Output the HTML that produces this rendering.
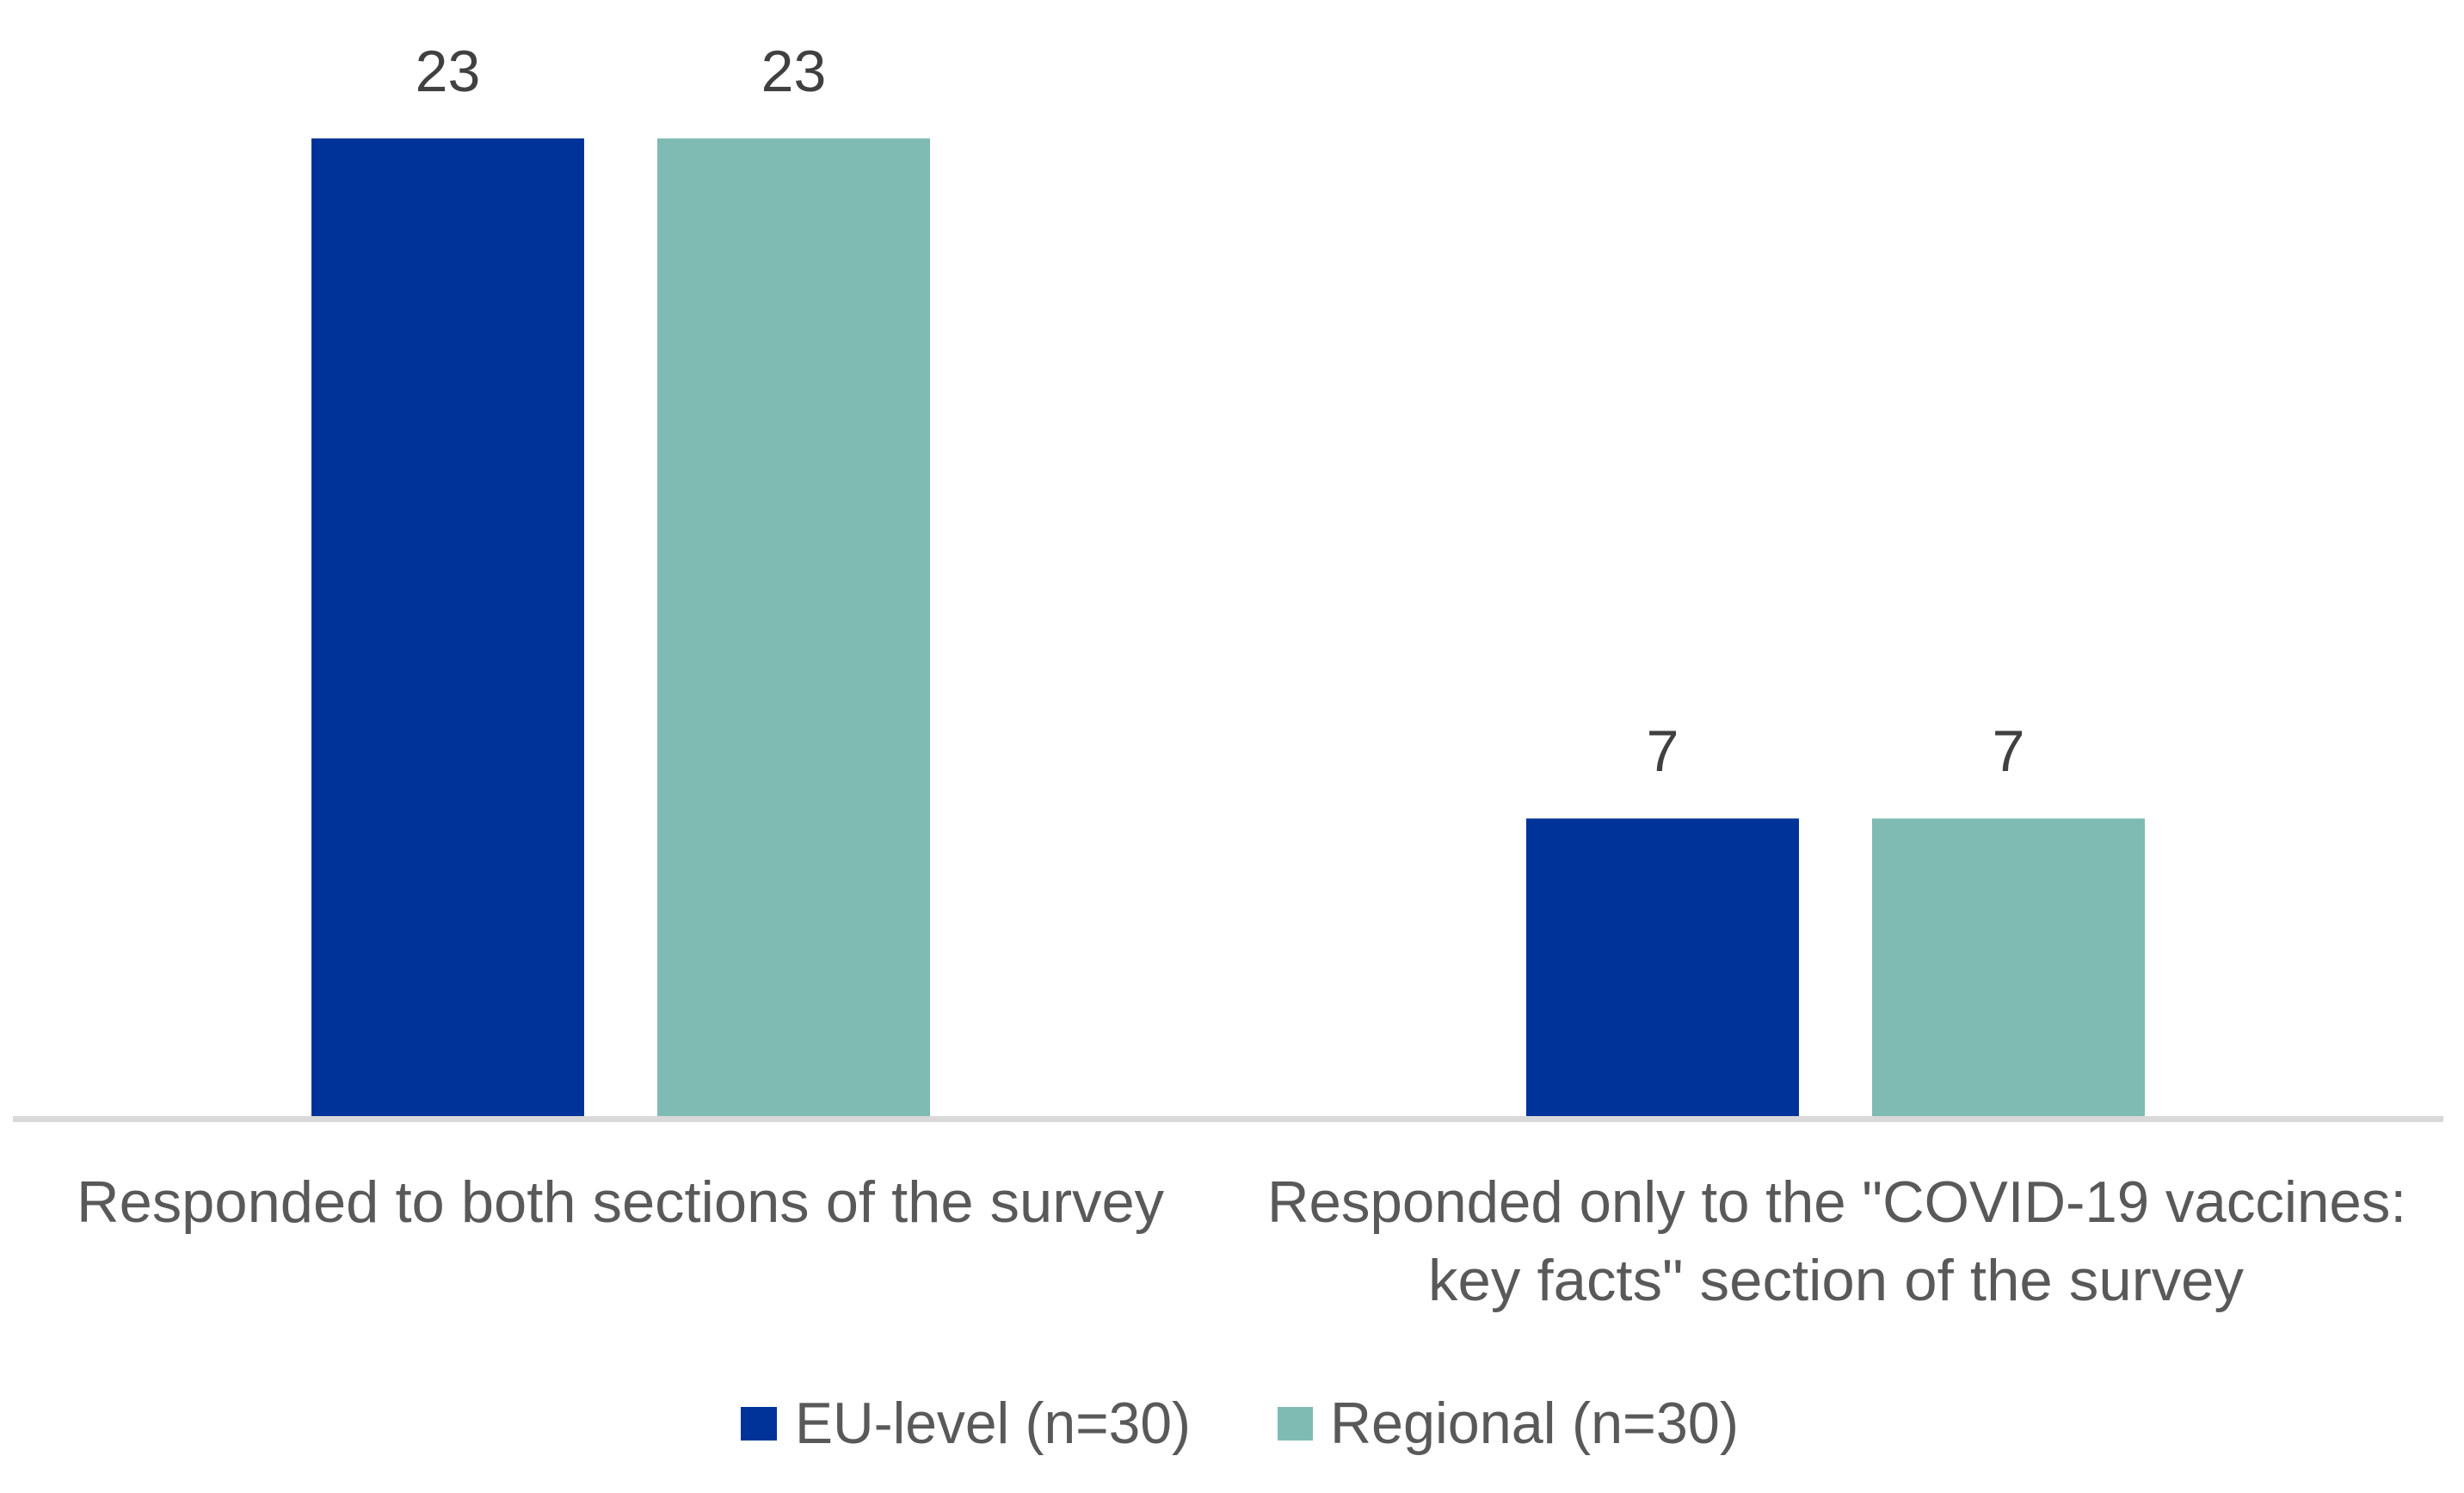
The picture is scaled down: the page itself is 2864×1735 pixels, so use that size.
<!DOCTYPE html>
<html><head><meta charset="utf-8"><style>
html,body{margin:0;padding:0;background:#fff;}
svg{display:block;font-family:"Liberation Sans",sans-serif;}
</style></head><body>
<svg id="chart" width="2864" height="1735" viewBox="0 0 2864 1735" xmlns="http://www.w3.org/2000/svg">
<rect x="0" y="0" width="2864" height="1735" fill="#fff"/>
<g id="bars"></g>
<rect x="15" y="1297" width="2825" height="7" fill="#d9d9d9"/>
<g fill="#595959" font-size="68" text-anchor="middle">
<text x="721" y="1420" textLength="1264" lengthAdjust="spacingAndGlyphs">Responded to both sections of the survey</text>
</g>
<g fill="#595959" font-size="68" text-anchor="middle">
<text x="2135" y="1420" textLength="1324" lengthAdjust="spacingAndGlyphs">Responded only to the "COVID-19 vaccines:</text>
<text x="2134" y="1511" textLength="948" lengthAdjust="spacingAndGlyphs">key facts" section of the survey</text>
</g>
<g>
<g>
<rect x="861" y="1635" width="42" height="39" fill="#003399"/>
<text x="924" y="1677" font-size="68" fill="#595959" textLength="460" lengthAdjust="spacingAndGlyphs">EU-level (n=30)</text>
</g>
<g>
<rect x="1485" y="1635" width="41" height="39" fill="#7fbbb2"/>
<text x="1546" y="1677" font-size="68" fill="#595959" textLength="475" lengthAdjust="spacingAndGlyphs">Regional (n=30)</text>
</g>
</g>
</svg>
<script>
const categories = ["Responded to both sections of the survey", "Responded only to the \"COVID-19 vaccines: key facts\" section of the survey"];
const euLevel = [23, 7];
const regional = [23, 7];
const seriesColors = ["#003399", "#7fbbb2"];

const baseY = 1297, unit = 49.4;
const groupStart = [362, 1774];
const barW = 317, barStep = 402;
function yScale(v){ return baseY - v * unit; }
const NS = "http://www.w3.org/2000/svg";
const g = document.getElementById('bars');
[euLevel, regional].forEach(function(series, s){
  series.forEach(function(v, i){
    const x = groupStart[i] + s * barStep;
    const r = document.createElementNS(NS, 'rect');
    
    
    r.setAttribute('x', x);
    r.setAttribute('y', yScale(v));
    r.setAttribute('width', barW);
    r.setAttribute('height', baseY - yScale(v));
    r.setAttribute('fill', seriesColors[s]);
    g.appendChild(r);
    const t = document.createElementNS(NS, 'text');
    
    
    t.setAttribute('x', x + barW / 2);
    t.setAttribute('y', yScale(v) - 55);
    t.setAttribute('text-anchor', 'middle');
    t.setAttribute('font-size', '68');
    t.setAttribute('fill', '#404040');
    t.textContent = String(v);
    g.appendChild(t);
  });
});
</script>
</body></html>
